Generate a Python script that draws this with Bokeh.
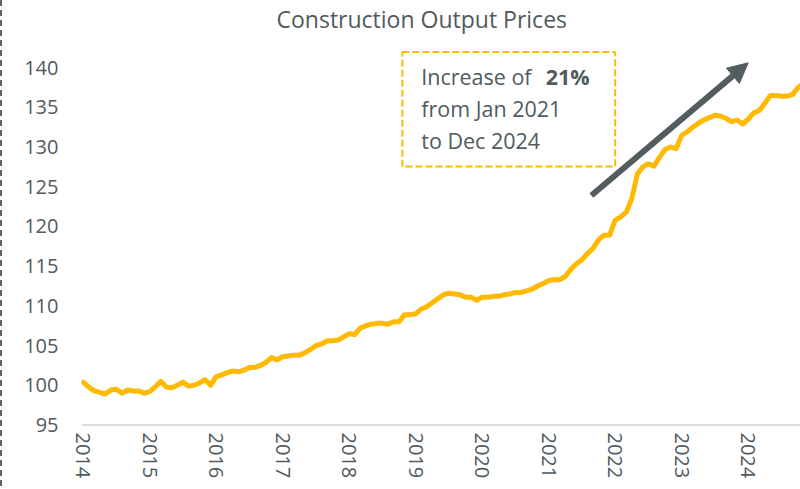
import numpy as np
from bokeh.plotting import figure
from bokeh.models import Range1d, FixedTicker, Label, Arrow, NormalHead, BoxAnnotation, Div, ColumnDataSource, Span
from bokeh.layouts import row
from bokeh.embed import file_html
from bokeh.resources import INLINE

# ---- data ----
years = ["2014", "2015", "2016", "2017", "2018", "2019", "2020", "2021", "2022", "2023", "2024"]
prices = [
    100.4, 99.8, 99.3, 99.1, 98.9, 99.4, 99.5, 99.0, 99.4, 99.3, 99.3, 99.0,      # 2014
    99.2, 99.8, 100.5, 99.8, 99.7, 100.0, 100.4, 99.9, 100.0, 100.3, 100.7, 100.0,  # 2015
    101.1, 101.3, 101.6, 101.8, 101.7, 101.9, 102.25, 102.25, 102.5, 102.9, 103.5, 103.2,  # 2016
    103.6, 103.7, 103.8, 103.8, 104.1, 104.5, 105.0, 105.2, 105.6, 105.6, 105.7, 106.1,  # 2017
    106.5, 106.4, 107.2, 107.5, 107.7, 107.8, 107.8, 107.7, 108.0, 108.0, 108.9, 108.9,  # 2018
    109.0, 109.6, 109.9, 110.4, 110.9, 111.4, 111.6, 111.5, 111.4, 111.1, 111.1, 110.7,  # 2019
    111.1, 111.1, 111.2, 111.2, 111.4, 111.5, 111.7, 111.7, 111.9, 112.1, 112.5, 112.8,  # 2020
    113.2, 113.3, 113.3, 113.7, 114.6, 115.3, 115.8, 116.6, 117.25, 118.3, 118.9, 118.9,  # 2021
    120.8, 121.2, 121.8, 123.5, 126.6, 127.5, 127.9, 127.6, 128.7, 129.7, 130.0, 129.8,  # 2022
    131.5, 131.9, 132.5, 133.0, 133.4, 133.7, 134.0, 133.9, 133.6, 133.2, 133.4, 132.9,  # 2023
    133.5, 134.3, 134.6, 135.5, 136.5, 136.5, 136.4, 136.4, 136.6, 137.5, 138.0, 138.5,  # 2024
]
months = list(range(len(prices)))
year_ticks = [12 * i for i in range(len(years))]
y_ticks = [95, 100, 105, 110, 115, 120, 125, 130, 135, 140]
baseline = 95

title_text = "Construction Output Prices"
note_line1 = "Increase of "
note_bold = "21%"
note_line2 = "from Jan 2021"
note_line3 = "to Dec 2024"

# annotation placement (data coordinates)
BOX_LEFT, BOX_RIGHT, BOX_BOTTOM, BOX_TOP = 57.6, 96.0, 127.54, 141.96
NOTE_X, BOLD_X = 61.0, 83.45
NOTE_Y = [138.92, 134.84, 130.88]
ARROW_START = (91.7, 123.9)
ARROW_END = (120.0, 140.6)

TEXT = "#505a5e"
GOLD = "#ffb900"
FONT = "Open Sans"

p = figure(width=794, height=486, output_backend="svg", toolbar_location=None,
           x_range=Range1d(-0.3, 129.8), y_range=Range1d(94.06, 143.54),
           min_border_left=73, min_border_right=0, min_border_top=0, min_border_bottom=0)
p.outline_line_color = None
p.background_fill_color = "white"
p.border_fill_color = "white"
p.xgrid.visible = False
p.ygrid.visible = False

p.title.text = title_text
p.title.align = "left"
p.title.offset = 195
p.title.standoff = 10
p.title.text_font = FONT
p.title.text_font_size = "23px"
p.title.text_font_style = "normal"
p.title.text_color = TEXT

src = ColumnDataSource(dict(x=months, y=prices))
p.line("x", "y", source=src, line_color=GOLD, line_width=5, line_join="round", line_cap="round")

p.add_layout(Span(location=baseline, dimension="width", line_color="#d9dde1", line_width=2))

xa = p.xaxis[0]
xa.ticker = FixedTicker(ticks=year_ticks)
xa.major_label_overrides = {t: y for t, y in zip(year_ticks, years)}
xa.major_label_orientation = -np.pi / 2
xa.axis_line_color = None
xa.major_tick_line_color = None
xa.minor_tick_line_color = None
xa.major_tick_out = 0
xa.major_tick_in = 0
xa.axis_label_standoff = 0
xa.major_label_standoff = 0
xa.major_label_text_font = FONT
xa.major_label_text_font_size = "20px"
xa.major_label_text_color = TEXT

ya = p.yaxis[0]
ya.ticker = FixedTicker(ticks=y_ticks)
ya.axis_line_color = None
ya.major_tick_line_color = None
ya.minor_tick_line_color = None
ya.major_tick_out = 0
ya.major_tick_in = 0
ya.major_label_standoff = 23
ya.major_label_text_font = FONT
ya.major_label_text_font_size = "20px"
ya.major_label_text_color = TEXT

p.add_layout(BoxAnnotation(left=BOX_LEFT, right=BOX_RIGHT, bottom=BOX_BOTTOM, top=BOX_TOP,
                           fill_alpha=0, line_color=GOLD, line_alpha=1, line_width=2, line_dash="7 3"))
for txt, xx, yy, style in [(note_line1, NOTE_X, NOTE_Y[0], "normal"),
                           (note_bold, BOLD_X, NOTE_Y[0], "bold"),
                           (note_line2, NOTE_X, NOTE_Y[1], "normal"),
                           (note_line3, NOTE_X, NOTE_Y[2], "normal")]:
    p.add_layout(Label(x=xx, y=yy, text=txt, text_font=FONT, text_font_size="21.5px",
                       text_font_style=style, text_color=TEXT, text_baseline="alphabetic"))

p.add_layout(Arrow(x_start=ARROW_START[0], y_start=ARROW_START[1], x_end=ARROW_END[0], y_end=ARROW_END[1],
                   line_color="#535c5e", line_width=6,
                   end=NormalHead(size=20, fill_color="#535c5e", line_color="#535c5e")))

edge = Div(width=3, height=486, styles={"border-left": "2px dashed #5b6467", "height": "486px"})
layout = row(edge, p, spacing=0, styles={"margin-top": "-5px", "margin-left": "-5px"})
open("out.html", "w").write(file_html(layout, INLINE))
